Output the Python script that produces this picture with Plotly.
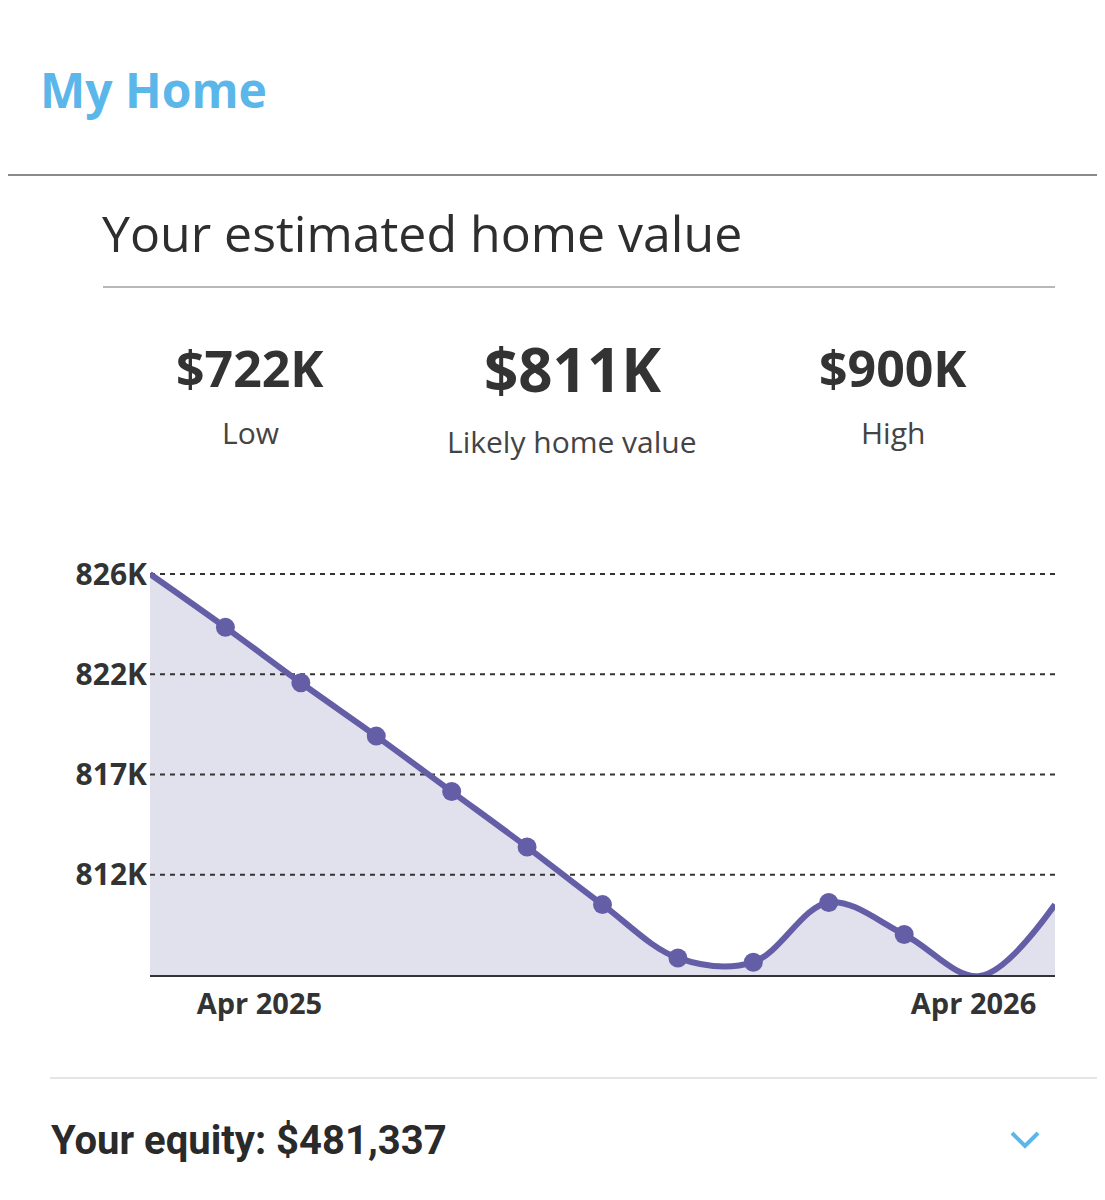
import plotly.graph_objects as go

# ---- data ----
x_idx = list(range(13))
values_k = [826.4, 823.9, 821.3, 818.8, 816.2, 813.6, 810.9, 808.4, 808.2, 811.0, 809.5, 807.55, 810.9]
marker_sizes = [0] + [19] * 11 + [0]
y_tick_vals = [826.4, 821.7, 817.0, 812.3]
y_tick_text = ["826K", "822K", "817K", "812K"]
x_tick_vals = [1.45, 10.92]
x_tick_text = ["Apr 2025", "Apr 2026"]
summary_values = ["$722K", "$811K", "$900K"]
summary_labels = ["Low", "Likely home value", "High"]

# page has an 8px body margin; lay out in reference pixel coordinates
OFF = 8
W, H = 1105 - OFF, 1200 - OFF
PL, PR, PT, PB = 150, 1055, 564, 975          # plot area in reference pixels
L, R, T, B = PL - OFF, W - (PR - OFF), PT - OFF, H - (PB - OFF)
PW, PH = PR - PL, PB - PT
Y_RANGE = [807.6, 826.87]

def px(xr):
    return (xr - PL) / PW

def py(yr):
    return (PB - yr) / PH

FONT = "Open Sans"
LINE = "#645ea7"
FILL = "#e1e0ed"
DARK = "#333333"

fig = go.Figure()
fig.add_trace(go.Scatter(
    x=x_idx, y=values_k, mode="none", fill="tozeroy", fillcolor=FILL,
    line=dict(shape="spline", smoothing=1.0), hoverinfo="skip", showlegend=False))
for v in y_tick_vals:
    fig.add_trace(go.Scatter(
        x=[x_idx[0], x_idx[-1]], y=[v, v], mode="lines",
        line=dict(color=DARK, width=2, dash="5px,5px"), hoverinfo="skip", showlegend=False))
fig.add_trace(go.Scatter(
    x=x_idx, y=values_k, mode="lines+markers",
    line=dict(color=LINE, width=6, shape="spline", smoothing=1.0),
    marker=dict(color=LINE, size=marker_sizes, opacity=1, line=dict(width=0)),
    cliponaxis=False, showlegend=False))

annotations = []
def txt(text, x, y, size, color=DARK, weight="normal", xanchor="center", family=FONT):
    annotations.append(dict(
        text=text, x=px(x), y=py(y), xref="paper", yref="paper",
        xanchor=xanchor, yanchor="middle", showarrow=False,
        font=dict(family=family, size=size, color=color, weight=weight)))

txt("My Home", 38, 89, 48, color="#5bb7e9", weight="bold", xanchor="left")
txt("Your estimated home value", 100, 233, 50, color="#2e2e2e", xanchor="left")
txt(summary_values[0], 250, 368, 50, weight="bold")
txt(summary_values[1], 572, 369, 60, weight="bold")
txt(summary_values[2], 893, 368, 50, weight="bold")
txt(summary_labels[0], 250, 432, 30, color="#444444")
txt(summary_labels[1], 572, 441, 30, color="#444444")
txt(summary_labels[2], 893, 432, 30, color="#444444")
txt("Your equity: $481,337", 49, 1140, 40, color="#2a2a2a", weight="bold", xanchor="left",
    family="Roboto")

shapes = [
    dict(type="line", xref="paper", yref="paper", x0=px(0), x1=px(1105), y0=py(175), y1=py(175),
         line=dict(color="#8a8a8a", width=2)),
    dict(type="line", xref="paper", yref="paper", x0=px(103), x1=px(1055), y0=py(287), y1=py(287),
         line=dict(color="#b8b8b8", width=2)),
    dict(type="line", xref="paper", yref="paper", x0=px(50), x1=px(1105), y0=py(1078), y1=py(1078),
         line=dict(color="#dddddd", width=1.5)),
    dict(type="path", xref="paper", yref="paper",
         path=f"M {px(1012)},{py(1133)} L {px(1025)},{py(1146)} L {px(1038)},{py(1133)}",
         line=dict(color="#5bb7e9", width=4)),
]

fig.update_layout(
    width=W, height=H, margin=dict(l=L, r=R, t=T, b=B),
    paper_bgcolor="white", plot_bgcolor="rgba(0,0,0,0)",
    showlegend=False, annotations=annotations, shapes=shapes,
    font=dict(family=FONT, color=DARK),
    xaxis=dict(range=[0, 12], tickvals=x_tick_vals, ticktext=x_tick_text,
               showgrid=False, zeroline=False, showline=True, linecolor="#333333", linewidth=2,
               ticks="", tickfont=dict(family=FONT, size=29, color=DARK, weight="bold"),
               ticklabelstandoff=2, fixedrange=True),
    yaxis=dict(range=Y_RANGE, tickvals=y_tick_vals, ticktext=y_tick_text,
               showgrid=False, zeroline=False, showline=False, ticks="",
               tickfont=dict(family=FONT, size=30, color=DARK, weight="bold"),
               ticklabelstandoff=2, fixedrange=True),
)

fig.write_html("out.html")
